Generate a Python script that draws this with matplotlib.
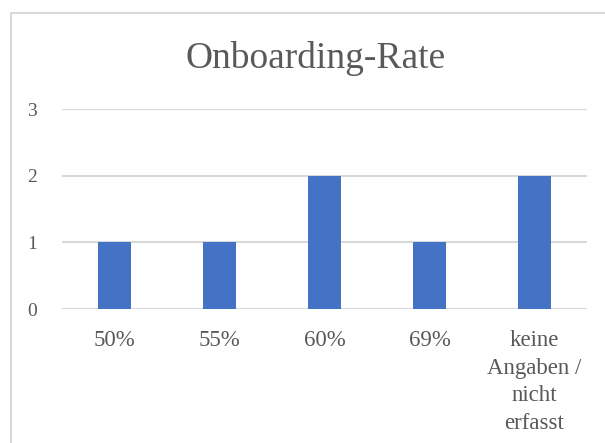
import matplotlib
matplotlib.use("Agg")
import matplotlib.pyplot as plt
from matplotlib.patches import Rectangle

categories = ["50%", "55%", "60%", "69%", "keine\nAngaben /\nnicht\nerfasst"]
counts = [1, 1, 2, 1, 2]
y_ticks = [0, 1, 2, 3]

plt.rcParams["font.family"] = ["Liberation Serif", "DejaVu Serif"]

W, H = 605, 443
fig = plt.figure(figsize=(W / 100, H / 100), dpi=100)
fig.patch.set_facecolor("white")

# chart frame (extends past the right and bottom edges)
fig.patches.append(Rectangle((10.5 / W, -0.1), 1.2, (H - 13) / H + 0.1,
                             transform=fig.transFigure, fill=False,
                             edgecolor="#D9D9D9", linewidth=1.5))

ax = fig.add_axes([62 / W, (H - 309) / H, (587 - 62) / W, (309 - 109) / H])
x = list(range(len(categories)))
ax.bar(x, counts, width=0.31, color="#4472C4", zorder=3)
ax.set_xlim(-0.5, len(categories) - 0.5)
ax.set_ylim(0, 3)
ax.set_yticks(y_ticks)
ax.set_xticks(x)
ax.set_xticklabels(categories, fontsize=16.5, color="#595959", linespacing=1.42)
ax.tick_params(axis="y", labelsize=14, labelcolor="#595959", length=0, pad=18)
ax.tick_params(axis="x", length=0, pad=15)
ax.grid(axis="y", color="#D9D9D9", linewidth=1.5, zorder=0)
for s in ax.spines.values():
    s.set_visible(False)

fig.text(315.5 / W, (H - 68) / H, "Onboarding-Rate",
         ha="center", va="baseline", fontsize=27, color="#595959")

fig.savefig("out.png", dpi=100)
